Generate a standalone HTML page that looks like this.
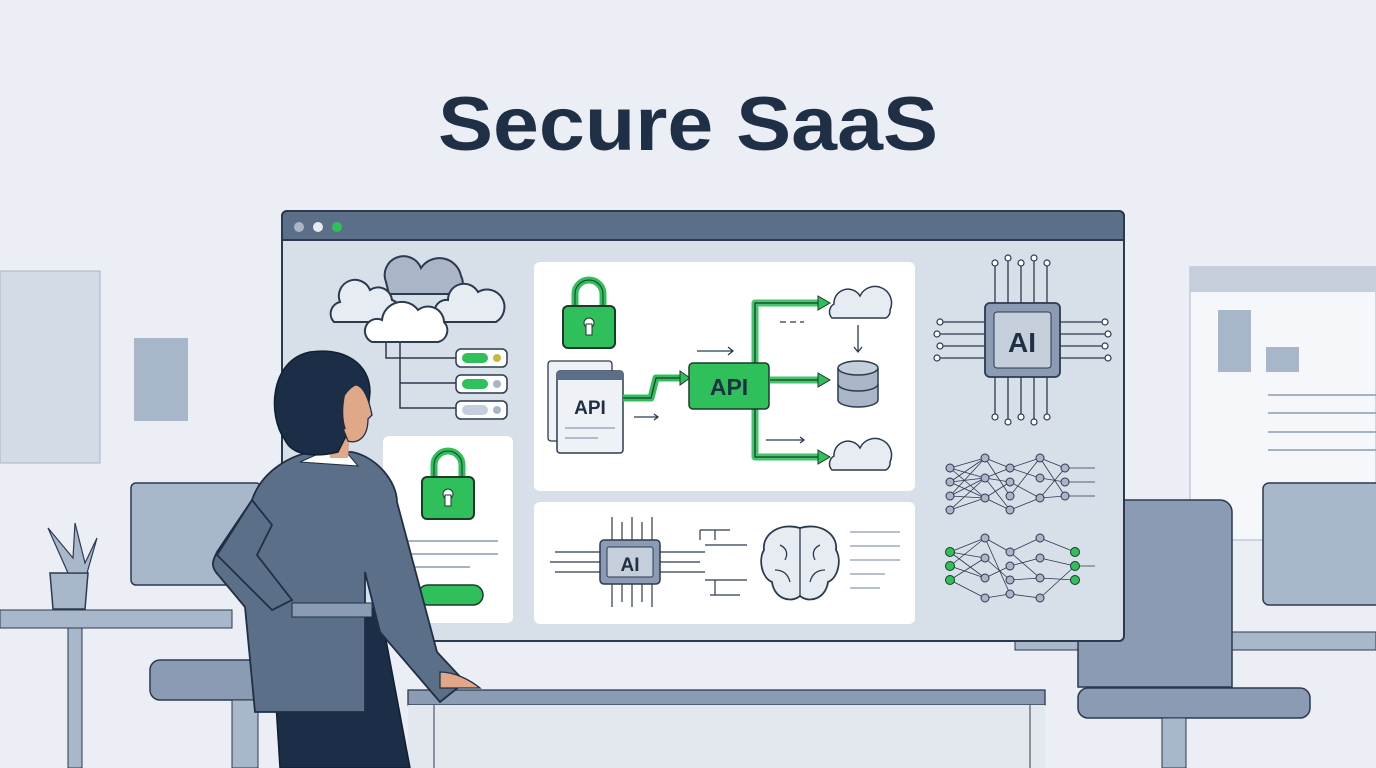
<!DOCTYPE html>
<html><head><meta charset="utf-8"><style>
html,body{margin:0;padding:0;background:#ebeff5;}
svg{display:block}
text{font-family:"Liberation Sans",Arial,sans-serif;font-weight:bold}
</style></head><body>
<svg width="1376" height="768" viewBox="0 0 1376 768" xmlns="http://www.w3.org/2000/svg">
<defs>
<g id="lock"><path d="M-14 -12 v-12 a14 14 0 0 1 28 0 v12" fill="none" stroke="#2fbf5b" stroke-width="7"/><path d="M-14 -12 v-12 a14 14 0 0 1 28 0 v12" fill="none" stroke="#1d3a2a" stroke-width="1"/><rect x="-26" y="-12" width="52" height="42" rx="5" fill="#2fbf5b" stroke="#1d3a2a" stroke-width="2"/><circle cx="0" cy="5" r="5" fill="#fff" stroke="#1d3a2a"/><rect x="-3" y="6" width="6" height="11" fill="#fff" stroke="#1d3a2a"/></g>
</defs>
<rect width="1376" height="768" fill="#ebeff5"/>
<text x="438" y="150" textLength="500" lengthAdjust="spacingAndGlyphs" font-size="76" fill="#1f2f45">Secure SaaS</text>
<rect x="0" y="271" width="100" height="192" fill="#d3dbe6" stroke="#a7b4c6"/>
<rect x="134" y="338" width="54" height="83" fill="#a8b6ca"/>
<rect x="131" y="483" width="130" height="102" rx="5" fill="#a9b7ca" stroke="#2b3a4f" stroke-width="1.5"/>
<rect x="0" y="610" width="232" height="18" fill="#a9b7ca" stroke="#2b3a4f" stroke-width="1"/>
<rect x="68" y="628" width="14" height="140" fill="#a9b7ca" stroke="#2b3a4f" stroke-width="1"/>
<path d="M50 573 h38 l-3 36 h-32 z" fill="#a9b7ca" stroke="#2b3a4f" stroke-width="1.5"/>
<path d="M68 573 l-20 -45 l25 30 l2 -35 l10 40 l12 -25 l-10 35 z" fill="#a9b7ca" stroke="#2b3a4f" stroke-width="1.2"/>
<path d="M150 670 a10 10 0 0 1 10 -10 h110 v40 h-110 a10 10 0 0 1 -10 -10 z" fill="#8a9bb3" stroke="#2b3a4f" stroke-width="1.5"/>
<rect x="232" y="700" width="26" height="68" fill="#a9b7ca" stroke="#2b3a4f"/>
<rect x="1190" y="267" width="186" height="273" fill="#f5f7fa" stroke="#a7b4c6"/>
<rect x="1190" y="267" width="186" height="25" fill="#c5cedb"/>
<rect x="1218" y="310" width="33" height="62" fill="#a8b6ca"/>
<rect x="1266" y="347" width="33" height="25" fill="#a8b6ca"/>
<g stroke="#8a9bb3" stroke-width="1.5"><line x1="1268" y1="395" x2="1376" y2="395"/><line x1="1268" y1="413" x2="1376" y2="413"/><line x1="1268" y1="432" x2="1376" y2="432"/><line x1="1268" y1="450" x2="1376" y2="450"/></g>
<rect x="1015" y="632" width="361" height="18" fill="#a9b7ca" stroke="#2b3a4f"/>
<rect x="1263" y="483" width="120" height="122" rx="6" fill="#a9b7ca" stroke="#2b3a4f" stroke-width="1.5"/>
<path d="M1125 500 h95 a12 12 0 0 1 12 12 v175 h-154 v-140 z" fill="#8a9bb3" stroke="#2b3a4f" stroke-width="1.5"/>
<rect x="1078" y="688" width="232" height="30" rx="10" fill="#8a9bb3" stroke="#2b3a4f" stroke-width="1.5"/>
<rect x="1162" y="718" width="24" height="50" fill="#a9b7ca" stroke="#2b3a4f"/>
<rect x="282" y="211" width="842" height="430" rx="5" fill="#d7dfe9" stroke="#2b3a4f" stroke-width="2"/>
<path d="M282 240 v-24 a5 5 0 0 1 5 -5 h832 a5 5 0 0 1 5 5 v24 z" fill="#5b6f89" stroke="#2b3a4f" stroke-width="2"/>
<circle cx="299" cy="227" r="5" fill="#aab6c8"/><circle cx="318" cy="227" r="5" fill="#e7ecf2"/><circle cx="337" cy="227" r="5" fill="#2fbf5b"/>
<path d="M386 282 a18 18 0 0 1 35 -14 a22 22 0 0 1 40 8 a14 14 0 0 1 -4 18 h-68 z" fill="#aab6c8" stroke="#2b3a4f" stroke-width="2"/>
<path d="M334 322 a12 12 0 0 1 6 -20 a16 16 0 0 1 30 -12 a14 14 0 0 1 22 10 a12 12 0 0 1 2 22 z" fill="#e7ecf2" stroke="#2b3a4f" stroke-width="2"/>
<path d="M440 322 a12 12 0 0 1 8 -22 a16 16 0 0 1 30 -8 a16 16 0 0 1 18 30 z" fill="#e7ecf2" stroke="#2b3a4f" stroke-width="2"/>
<path d="M372 342 a12 12 0 0 1 10 -22 a20 20 0 0 1 36 -10 a16 16 0 0 1 26 12 a12 12 0 0 1 -6 20 z" fill="#fff" stroke="#2b3a4f" stroke-width="2"/>
<g fill="none" stroke="#2b3a4f" stroke-width="1.5"><path d="M386 343 v15 h70"/><path d="M400 343 v65 h56"/><path d="M400 383 h56"/></g>
<g stroke="#2b3a4f" stroke-width="1.5"><rect x="456" y="349" width="51" height="18" rx="5" fill="#fff"/><rect x="456" y="375" width="51" height="18" rx="5" fill="#fff"/><rect x="456" y="401" width="51" height="18" rx="5" fill="#fff"/></g>
<rect x="462" y="353" width="26" height="10" rx="5" fill="#2fbf5b"/><circle cx="497" cy="358" r="4" fill="#c9b83a"/>
<rect x="462" y="379" width="26" height="10" rx="5" fill="#2fbf5b"/><circle cx="497" cy="384" r="4" fill="#aab6c8"/>
<rect x="462" y="405" width="26" height="10" rx="5" fill="#c5cedb"/><circle cx="497" cy="410" r="4" fill="#aab6c8"/>
<rect x="383" y="436" width="130" height="187" rx="6" fill="#fff"/>
<g transform="translate(448,489)"><use href="#lock"/></g>
<g stroke="#8a9bb3" stroke-width="1.5"><line x1="402" y1="541" x2="498" y2="541"/><line x1="402" y1="554" x2="498" y2="554"/><line x1="402" y1="567" x2="470" y2="567"/></g>
<rect x="418" y="585" width="65" height="20" rx="10" fill="#2fbf5b" stroke="#1d3a2a" stroke-width="1.5"/>
<rect x="534" y="262" width="381" height="229" rx="6" fill="#fff"/>
<g transform="translate(589,318)"><use href="#lock"/></g>
<rect x="548" y="361" width="64" height="80" rx="3" fill="#eef1f6" stroke="#2b3a4f" stroke-width="1.3"/>
<rect x="557" y="371" width="66" height="82" rx="3" fill="#eef1f6" stroke="#2b3a4f" stroke-width="1.5"/>
<rect x="557" y="371" width="66" height="9" fill="#5b6f89"/>
<text x="590" y="414" text-anchor="middle" font-size="19" fill="#1f2f45">API</text>
<g stroke="#8a9bb3" stroke-width="1.3"><line x1="565" y1="428" x2="615" y2="428"/><line x1="565" y1="438" x2="598" y2="438"/></g>
<g fill="none" stroke-linejoin="round">
<path d="M623 398 h28 l5 -20 h26" stroke="#2fbf5b" stroke-width="7"/>
<path d="M770 380 h50 M755 368 v-65 h65 M755 392 v65 h65" stroke="#2fbf5b" stroke-width="7" opacity="0.9"/>
<path d="M623 398 h28 l5 -20 h26 M770 380 h50 M755 368 v-65 h65 M755 392 v65 h65" stroke="#1d3a2a" stroke-width="1.3"/>
</g>
<g fill="#2fbf5b" stroke="#1d3a2a" stroke-width="1"><path d="M680 371 l10 7 l-10 7z"/><path d="M818 373 l12 7 l-12 7z"/><path d="M818 296 l12 7 l-12 7z"/><path d="M818 450 l12 7 l-12 7z"/></g>
<g stroke="#2b3a4f" stroke-width="1.3" fill="none"><path d="M697 351 h36 m-5 -4 l5 4 l-5 4"/><path d="M634 417 h24 m-4 -3 l4 3 l-4 3"/><path d="M766 440 h38 m-4 -3 l4 3 l-4 3"/><path d="M780 322 h24" stroke-dasharray="6 4"/><path d="M858 325 v27 m-4 -5 l4 5 l4 -5"/></g>
<rect x="689" y="363" width="80" height="46" rx="4" fill="#2fbf5b" stroke="#1d3a2a" stroke-width="1.5"/>
<text x="729" y="395" text-anchor="middle" font-size="23" fill="#1f2f45">API</text>
<path d="M832 318 a9 9 0 0 1 2 -14 a14 14 0 0 1 26 -8 a12 12 0 0 1 30 14 a8 8 0 0 1 -4 8 z" fill="#e7ecf2" stroke="#2b3a4f" stroke-width="1.5"/>
<path d="M832 470 a9 9 0 0 1 2 -14 a14 14 0 0 1 26 -8 a12 12 0 0 1 30 14 a8 8 0 0 1 -4 8 z" fill="#e7ecf2" stroke="#2b3a4f" stroke-width="1.5"/>
<path d="M838 368 v32 a20 7 0 0 0 40 0 v-32" fill="#aab6c8" stroke="#2b3a4f" stroke-width="1.5"/>
<ellipse cx="858" cy="368" rx="20" ry="7" fill="#c5cedb" stroke="#2b3a4f" stroke-width="1.5"/>
<path d="M838 384 a20 7 0 0 0 40 0" fill="none" stroke="#2b3a4f" stroke-width="1.5"/>
<rect x="534" y="502" width="381" height="122" rx="6" fill="#fff"/>
<g stroke="#2b3a4f" stroke-width="1.2" fill="none">
<path d="M600 552 h-45 M600 562 h-50 M600 572 h-45 M660 552 h45 M660 562 h40 M660 572 h45 M612 542 v-25 M622 542 v-20 M632 542 v-25 M642 542 v-20 M652 542 v-25 M612 582 v25 M622 582 v20 M632 582 v25 M642 582 v20 M652 582 v25"/>
<path d="M700 530 h30 M700 540 v-10 M715 530 v10 M705 545 h42 M705 580 h42 M710 595 h30 M715 580 v15"/>
</g>
<rect x="600" y="540" width="60" height="44" rx="4" fill="#8a9bb3" stroke="#2b3a4f" stroke-width="1.5"/>
<rect x="607" y="547" width="46" height="30" rx="2" fill="#c5cedb" stroke="#2b3a4f"/>
<text x="630" y="571" text-anchor="middle" font-size="19" fill="#1f2f45">AI</text>
<path d="M800 528 c-20 -6 -38 6 -36 22 c-6 10 -2 28 8 32 c2 16 18 22 28 14 c10 8 26 2 28 -14 c10 -4 14 -22 8 -32 c2 -16 -16 -28 -36 -22 z" fill="#e7ecf2" stroke="#2b3a4f" stroke-width="1.8"/>
<path d="M800 528 v68 M780 545 q10 5 5 15 M820 545 q-10 5 -5 15 M775 570 q12 0 15 12 M825 570 q-12 0 -15 12" stroke="#2b3a4f" stroke-width="1.3" fill="none"/>
<g stroke="#8a9bb3" stroke-width="1.3"><line x1="850" y1="532" x2="900" y2="532"/><line x1="850" y1="546" x2="900" y2="546"/><line x1="850" y1="560" x2="900" y2="560"/><line x1="850" y1="574" x2="885" y2="574"/><line x1="850" y1="588" x2="880" y2="588"/></g>
<g stroke="#2b3a4f" stroke-width="1.3" fill="none">
<path d="M985 322 h-45 M985 334 h-48 M985 346 h-45 M985 358 h-48 M1060 322 h45 M1060 334 h48 M1060 346 h45 M1060 358 h48 M995 303 v-40 M1008 303 v-45 M1021 303 v-40 M1034 303 v-45 M1047 303 v-40 M995 377 v40 M1008 377 v45 M1021 377 v40 M1034 377 v45 M1047 377 v40"/>
</g>
<g fill="#fff" stroke="#2b3a4f" stroke-width="1.2"><circle cx="940" cy="322" r="3"/><circle cx="937" cy="334" r="3"/><circle cx="940" cy="346" r="3"/><circle cx="937" cy="358" r="3"/><circle cx="1105" cy="322" r="3"/><circle cx="1108" cy="334" r="3"/><circle cx="1105" cy="346" r="3"/><circle cx="1108" cy="358" r="3"/><circle cx="995" cy="263" r="3"/><circle cx="1008" cy="258" r="3"/><circle cx="1021" cy="263" r="3"/><circle cx="1034" cy="258" r="3"/><circle cx="1047" cy="263" r="3"/><circle cx="995" cy="417" r="3"/><circle cx="1008" cy="422" r="3"/><circle cx="1021" cy="417" r="3"/><circle cx="1034" cy="422" r="3"/><circle cx="1047" cy="417" r="3"/></g>
<rect x="985" y="303" width="75" height="74" rx="5" fill="#8a9bb3" stroke="#2b3a4f" stroke-width="1.8"/>
<rect x="994" y="312" width="57" height="56" rx="3" fill="#c5cedb" stroke="#2b3a4f"/>
<text x="1022" y="352" text-anchor="middle" font-size="28" fill="#1f2f45">AI</text>
<g stroke="#2b3a4f" stroke-width="0.8">
<path d="M950 468 L985 458 M950 468 L985 478 M950 468 L985 498 M950 482 L985 458 M950 482 L985 478 M950 482 L985 498 M950 496 L985 458 M950 496 L985 478 M950 496 L985 498 M950 510 L985 478 M950 510 L985 498 M985 458 L1010 468 M985 458 L1010 496 M985 478 L1010 468 M985 478 L1010 482 M985 478 L1010 510 M985 498 L1010 482 M985 498 L1010 510 M1010 468 L1040 458 M1010 468 L1040 478 M1010 482 L1040 498 M1010 496 L1040 458 M1010 510 L1040 498 M1040 458 L1065 468 M1040 478 L1065 482 M1040 498 L1065 496 M1040 458 L1065 496 M1040 498 L1065 468 M1065 468 h30 M1065 482 h30 M1065 496 h30"/>
<path d="M950 552 L985 538 M950 552 L985 558 M950 552 L985 578 M950 566 L985 538 M950 566 L985 578 M950 580 L985 558 M950 580 L985 598 M985 538 L1010 552 M985 558 L1010 580 M985 578 L1010 566 M985 598 L1010 594 M985 538 L1010 594 M1010 552 L1040 538 M1010 566 L1040 558 M1010 580 L1040 578 M1010 594 L1040 598 M1010 552 L1040 578 M1040 538 L1075 552 M1040 558 L1075 566 M1040 578 L1075 580 M1040 598 L1075 566 M1075 566 h20"/>
</g>
<g fill="#aab6c8" stroke="#2b3a4f" stroke-width="1"><circle cx="950" cy="468" r="4"/><circle cx="950" cy="482" r="4"/><circle cx="950" cy="496" r="4"/><circle cx="950" cy="510" r="4"/><circle cx="985" cy="458" r="4"/><circle cx="985" cy="478" r="4"/><circle cx="985" cy="498" r="4"/><circle cx="1010" cy="468" r="4"/><circle cx="1010" cy="482" r="4"/><circle cx="1010" cy="496" r="4"/><circle cx="1010" cy="510" r="4"/><circle cx="1040" cy="458" r="4"/><circle cx="1040" cy="478" r="4"/><circle cx="1040" cy="498" r="4"/><circle cx="1065" cy="468" r="4"/><circle cx="1065" cy="482" r="4"/><circle cx="1065" cy="496" r="4"/>
<circle cx="985" cy="538" r="4"/><circle cx="985" cy="558" r="4"/><circle cx="985" cy="578" r="4"/><circle cx="985" cy="598" r="4"/><circle cx="1010" cy="552" r="4"/><circle cx="1010" cy="566" r="4"/><circle cx="1010" cy="580" r="4"/><circle cx="1010" cy="594" r="4"/><circle cx="1040" cy="538" r="4"/><circle cx="1040" cy="558" r="4"/><circle cx="1040" cy="578" r="4"/><circle cx="1040" cy="598" r="4"/></g>
<g fill="#2fbf5b" stroke="#1d3a2a" stroke-width="1"><circle cx="950" cy="552" r="4.5"/><circle cx="950" cy="566" r="4.5"/><circle cx="950" cy="580" r="4.5"/><circle cx="1075" cy="552" r="4.5"/><circle cx="1075" cy="566" r="4.5"/><circle cx="1075" cy="580" r="4.5"/></g>
<rect x="408" y="690" width="637" height="15" fill="#8a9bb3" stroke="#2b3a4f" stroke-width="1.3"/>
<rect x="408" y="705" width="637" height="63" fill="#e3e8ef"/>
<line x1="434" y1="705" x2="434" y2="768" stroke="#2b3a4f"/>
<line x1="1030" y1="705" x2="1030" y2="768" stroke="#2b3a4f"/>
<path d="M280 768 l-10 -160 l110 0 l30 160 z" fill="#1c2e47" stroke="#10202f" stroke-width="1.5"/>
<path d="M252 500 c10 -30 40 -45 60 -48 h40 c25 5 45 30 45 50 l40 150 l28 30 l-25 20 l-60 -70 l-15 -60 l0 140 h-110 l-10 -105 l-25 -30 c-10 -10 -8 -15 -3 -25 z" fill="#5b6f89" stroke="#1f2f45" stroke-width="1.8"/>
<path d="M252 500 l-35 55 l55 55 l20 -10 l-35 -45 l15 -30 z" fill="#5b6f89" stroke="#1f2f45" stroke-width="1.8"/>
<rect x="292" y="603" width="80" height="14" fill="#8a9bb3" stroke="#1f2f45"/>
<path d="M440 672 c15 0 30 8 40 16 h-40 z" fill="#e0a888" stroke="#1f2f45" stroke-width="1.3"/>
<path d="M300 462 l18 -8 h30 l10 12 z" fill="#fff" stroke="#1f2f45"/>
<path d="M330 428 l0 30 h18 l2 -28 z" fill="#e0a888"/>
<path d="M285 440 c-18 -25 -15 -80 25 -88 c35 -5 60 12 60 40 l-2 20 c-5 10 -12 20 -20 20 l-10 20 c-20 5 -45 5 -53 -12 z" fill="#1c2e47" stroke="#10202f" stroke-width="1.5"/>
<path d="M355 385 c10 0 15 20 17 30 l-4 4 c0 20 -12 25 -20 22 l-8 -20 c-5 -15 5 -30 15 -36 z" fill="#e0a888" stroke="#1f2f45" stroke-width="1.3"/>
<path d="M348 375 c-8 20 -10 40 -5 55" stroke="#1c2e47" stroke-width="6" fill="none"/>
</svg>
</body></html>
